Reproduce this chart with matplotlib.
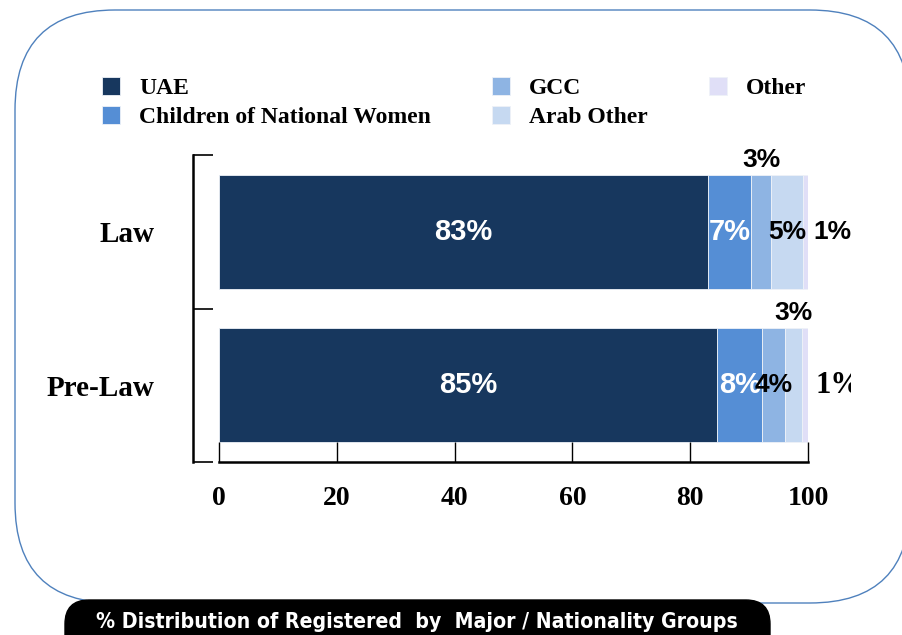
import numpy as np
import matplotlib
matplotlib.use('Agg')
import matplotlib.pyplot as plt
from matplotlib.patches import FancyBboxPatch, Rectangle
from matplotlib.transforms import IdentityTransform

categories = ['Pre-Law', 'Law']
groups = ['UAE', 'Children of National Women', 'GCC', 'Arab Other', 'Other']
values = {
    'Law':     [83.1, 7.3, 3.4, 5.4, 0.8],
    'Pre-Law': [84.6, 7.6, 3.9, 2.9, 1.0],
}
colors = ['#17375E', '#558ED5', '#8EB4E3', '#C6D9F1', '#E0DFF7']
# where each value label goes: white inside, black inside, above bar, right of bar
placement = {
    'Law':     ['white', 'white', 'above', 'in', 'right'],
    'Pre-Law': ['white', 'white', 'in', 'above', 'right'],
}
xticks = [0, 20, 40, 60, 80, 100]
title = '% Distribution of Registered  by  Major / Nationality Groups'

W, H = 903, 635
fig = plt.figure(figsize=(W / 100, H / 100), dpi=100)
fig.patch.set_facecolor('white')

# rounded frame and title pill (pixel coords)
frame = FancyBboxPatch((15, H - 603), 895, 593, boxstyle='round,pad=0,rounding_size=100',
                       transform=IdentityTransform(), facecolor='white',
                       edgecolor='#4F81BD', linewidth=1.0, zorder=-2)
fig.patches.append(frame)
pill = FancyBboxPatch((65, H - 660), 705, 60, boxstyle='round,pad=0,rounding_size=24',
                      transform=IdentityTransform(), facecolor='black',
                      edgecolor='black', zorder=-1)
fig.patches.append(pill)
fig.text(417 / W, 1 - 622 / H, title, color='white', ha='center', va='center',
         fontsize=15.2, fontweight='bold', fontstretch='condensed',
         family=['DejaVu Sans'], zorder=2)

ax = fig.add_axes([219 / W, 1 - 462 / H, 589 / W, 307 / H])
ax.set_zorder(3)
ax.set_facecolor('none')
serif = ['Liberation Serif', 'DejaVu Serif']
sans = ['Liberation Sans', 'DejaVu Sans']

for s in ['top', 'right']:
    ax.spines[s].set_visible(False)
ax.spines['left'].set_position(('outward', 18.7))
ax.spines['left'].set_linewidth(1.8)
ax.spines['bottom'].set_linewidth(1.8)

handles = []
for ci, cat in enumerate(categories):
    left = 0.0
    for gi, v in enumerate(values[cat]):
        b = ax.barh(ci, v, left=left, height=0.74, color=colors[gi],
                    edgecolor='#EEF2F8', linewidth=0.6)
        if ci == 0:
            handles.append(b)
        mode = placement[cat][gi]
        lab = f'{round(v)}%'
        mid = left + v / 2
        if mode == 'white':
            ax.text(mid, ci, lab, color='white', ha='center', va='center',
                    fontsize=21, fontweight='bold', family=sans)
        elif mode == 'in':
            ax.text(mid, ci, lab, color='black', ha='center', va='center',
                    fontsize=19, fontweight='bold', family=sans)
        elif mode == 'above':
            ax.text(mid, ci + 0.47, lab, color='black', ha='center', va='center',
                    fontsize=19, fontweight='bold', family=sans)
        elif cat == 'Law':
            ax.text(left + v + 4.2, ci, lab, color='black', ha='center', va='center',
                    fontsize=19, fontweight='bold', family=sans, clip_on=False)
        else:
            t = ax.text(left + v + 5.2, ci, lab, color='black', ha='center', va='center',
                        fontsize=22, fontweight='bold', family=serif)
            t.set_clip_path(Rectangle((0, 0), 851, H, transform=IdentityTransform()))
            t.set_clip_on(True)
        left += v

ax.set_xlim(0, 100)
ax.set_ylim(-0.5, 1.5)
ax.set_xticks(xticks)
ax.set_xticklabels([str(x) for x in xticks], fontsize=20, fontweight='bold', family=serif)
ax.tick_params(axis='x', direction='in', length=14.5, width=1.0, pad=17)

ax.set_yticks([-0.5, 0.5, 1.5], minor=True)
ax.tick_params(axis='y', which='minor', direction='in', length=14.5, width=1.2)
ax.set_yticks([0, 1])
ax.set_yticklabels(categories, fontsize=21, fontweight='bold', family=serif)
ax.tick_params(axis='y', which='major', length=0, pad=28)

fig.legend(handles, groups, loc='upper left', bbox_to_anchor=(93 / W, 1 - 68 / H),
           ncol=3, frameon=False, prop={'family': serif, 'weight': 'bold', 'size': 17},
           handlelength=0.75, handleheight=0.75, handletextpad=0.8,
           columnspacing=2.6, labelspacing=0.3, borderaxespad=0)

fig.savefig('out.png', dpi=100)
